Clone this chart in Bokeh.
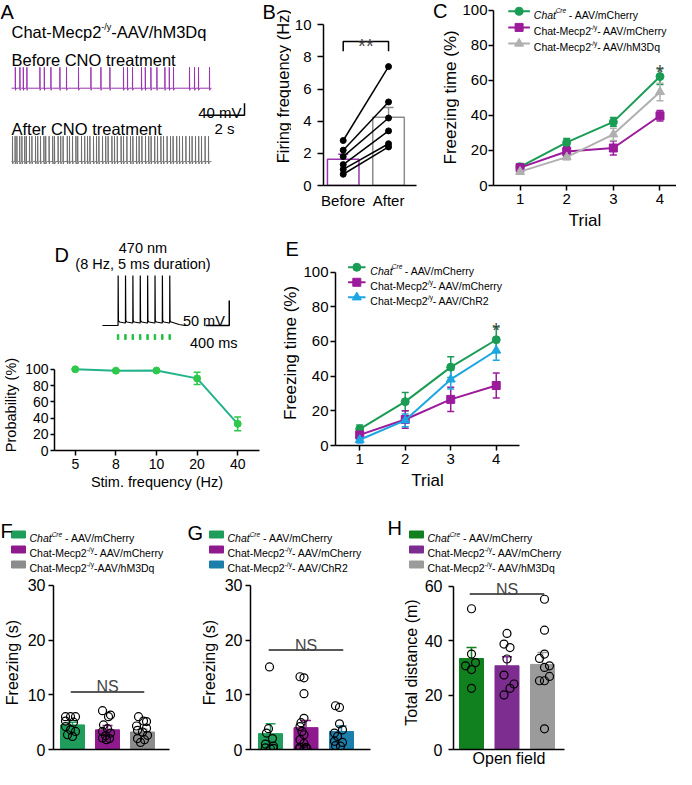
import math
from bokeh.plotting import figure
from bokeh.layouts import row, column
from bokeh.models import (Range1d, Label, Whisker, TeeHead, ColumnDataSource, FixedTicker)
from bokeh.embed import file_html
from bokeh.resources import INLINE

FONT = "Liberation Sans"

# ===================== DATA =====================
# A: spike times (s) in the two 10 s sweeps
a_before_spikes = [0.19, 0.42, 0.59, 0.77, 1.42, 1.64, 1.97, 2.42, 2.75, 3.35, 3.97,
                   4.47, 4.92, 5.60, 5.80, 6.05, 6.50, 6.69, 6.97, 7.27, 7.67, 7.89,
                   8.10, 8.90, 9.15, 9.35, 9.90]
a_after_spikes = [0.05, 0.18, 0.27, 0.41, 0.52, 0.66, 0.74, 0.90, 1.02, 1.20, 1.31,
                  1.45, 1.62, 1.71, 1.88, 2.06, 2.15, 2.33, 2.46, 2.58, 2.79, 2.90,
                  3.05, 3.22, 3.31, 3.50, 3.66, 3.80, 3.92, 4.10, 4.25, 4.37, 4.55,
                  4.71, 4.83, 5.02, 5.15, 5.29, 5.48, 5.60, 5.77, 5.95, 6.07, 6.25,
                  6.38, 6.52, 6.70, 6.86, 6.98, 7.16, 7.30, 7.47, 7.60, 7.78, 7.95,
                  8.08, 8.26, 8.40, 8.55, 8.72, 8.90, 9.03, 9.20, 9.36, 9.50, 9.68, 9.85]
a_sweep_s = 10.0
a_scale_mv = 40
a_scale_s = 2

# B
b_groups = ["Before", "After"]
b_before_hz = [2.8, 2.2, 1.8, 1.3, 1.0, 0.7]
b_after_hz = [7.4, 5.2, 4.2, 3.4, 2.6, 2.4]
b_mean_hz = [1.63, 4.25]
b_sem_hz = [0.32, 0.6]

# C
trials = [1, 2, 3, 4]
c_chat_mch = [10.6, 24.6, 36.3, 62.2]
c_chat_mch_sem = [2.0, 2.2, 2.5, 4.5]
c_mecp_mch = [10.2, 19.4, 21.4, 39.8]
c_mecp_mch_sem = [2.0, 3.0, 4.0, 3.0]
c_mecp_hm3 = [7.9, 16.2, 29.2, 53.4]
c_mecp_hm3_sem = [1.5, 1.5, 3.5, 5.0]

# D
d_freq_labels = ["5", "8", "10", "20", "40"]
d_prob = [100.0, 98.3, 98.5, 88.8, 32.8]
d_prob_sem = [0.6, 1.0, 1.0, 7.4, 8.5]
d_pulses_ms = [265, 390, 515, 640, 765, 890, 1015, 1140]
d_sweep_ms = 1425
d_scale_mv = 50
d_scale_ms = 400

# E
e_chat_mch = [9.5, 25.3, 45.2, 61.0]
e_chat_mch_sem = [2.3, 5.2, 6.0, 7.4]
e_mecp_mch = [6.1, 15.0, 26.6, 34.6]
e_mecp_mch_sem = [2.5, 5.0, 7.0, 7.2]
e_mecp_chr2 = [3.3, 14.5, 38.1, 54.8]
e_mecp_chr2_sem = [1.8, 3.7, 5.5, 5.6]

# F (freezing, s)
f_mean = [4.5, 3.6, 3.2]
f_sem = [0.5, 0.8, 0.5]
f_dots = [[6.0, 6.0, 6.0, 5.2, 5.0, 4.2, 3.6, 3.3, 2.7, 2.4],
          [7.1, 6.3, 6.0, 4.5, 3.8, 3.3, 3.0, 2.5, 2.1, 2.0, 1.8],
          [6.0, 5.2, 5.1, 4.3, 3.9, 3.5, 3.2, 2.6, 2.0, 1.8, 1.3]]
f_jit = [[-7, -2, 3, -7, 1, -7, -2, 3, -5, 0],
         [-5, 3, 1, -4, 0, -5, 3, -2, -5, 2, -1],
         [-4, 1, 4, -6, 4, -5, 0, 5, -5, 2, -2]]
# G (freezing, s)
g_mean = [2.9, 4.0, 3.3]
g_sem = [1.8, 1.3, 1.0]
g_dots = [[15.1, 3.8, 3.0, 2.0, 1.0, 0.6, 0.3, 0.2, 0.1],
          [13.3, 13.1, 10.2, 5.7, 4.9, 4.2, 3.3, 2.7, 1.8, 1.1, 0.4, 0.4, 0.1, 0.1, 0.1],
          [8.0, 7.7, 4.7, 3.6, 3.0, 2.4, 1.5, 1.3, 0.7, 0.6]]
g_jit = [[-1, -2, -4, 2, -5, 3, -5, 3, 0],
         [-6, -2, -2, -2, -5, -6, -4, -2, -6, -2, -6, 0, -7, -2, 1],
         [-6, -2, -2, 1, -7, -4, -7, 1, -6, -1]]
# H (total distance, m)
h_mean = [33.5, 30.8, 31.3]
h_sem = [4.0, 3.3, 4.4]
h_dots = [[51.8, 35.1, 32.0, 30.8, 29.4, 22.5],
          [42.7, 38.8, 37.5, 33.3, 27.4, 24.1, 22.5, 20.1],
          [55.3, 43.9, 35.1, 33.5, 30.8, 30.2, 26.9, 25.3, 25.3, 7.6]]
h_jit = [[0, 0, 4, -6, 0, 0],
         [0, -3, 3, 0, -3, 7, 3, -3],
         [2, 2, 2, -3, 7, 2, 7, -3, 2, 2]]

# ===================== COLOURS =====================
PUR_A, GRY_A = "#9a34b0", "#6e6e6e"
GREEN, PURPLE, LGREY, BLUE = "#1a9c55", "#9b1b9b", "#b0b0b0", "#1ca6e2"
D_LINE, D_MARK = "#22b38a", "#2ec84a"
F_COL = ["#1e9e5a", "#8e1a8e", "#8c8c8c"]
G_COL = ["#1e9e5a", "#8e1a8e", "#1b7eab"]
H_COL = ["#11801f", "#7d2c8f", "#9b9b9b"]

# ===================== HELPERS =====================
AW = {' ': 278, '!': 278, '%': 889, '(': 333, ')': 333, '*': 389, ',': 278, '-': 333,
      '.': 278, '/': 278, ':': 278}
for ch in "0123456789":
    AW[ch] = 556
AW.update(dict(zip("ABCDEFGHIJKLMNOPQRSTUVWXYZ",
                   [667, 667, 722, 722, 667, 611, 778, 722, 278, 500, 667, 556, 833, 722,
                    778, 667, 778, 722, 667, 611, 722, 667, 944, 667, 667, 611])))
AW.update(dict(zip("abcdefghijklmnopqrstuvwxyz",
                   [556, 556, 500, 556, 556, 278, 556, 556, 222, 222, 500, 222, 833, 556,
                    556, 556, 556, 333, 500, 278, 556, 500, 722, 500, 500, 500])))


def tw(s, size):
    return sum(AW.get(c, 556) for c in s) / 1000.0 * size


def mkfig(ox, oy, W, H, fx0, fy0, fx1, fy1, xr, yr, axes=True):
    kw = dict(width=W, height=H, x_range=Range1d(*xr), y_range=Range1d(*yr),
              output_backend="svg", toolbar_location=None,
              min_border_left=fx0 - ox, min_border_right=ox + W - fx1,
              min_border_top=fy0 - oy, min_border_bottom=oy + H - fy1)
    if not axes:
        kw["x_axis_location"] = None
        kw["y_axis_location"] = None
    p = figure(**kw)
    p.grid.visible = False
    p.outline_line_color = None
    p.border_fill_color = "white"
    p.background_fill_color = "white"

    def X(r):
        return xr[0] + (r - fx0) / (fx1 - fx0) * (xr[1] - xr[0])

    def Y(r):
        return yr[0] + (fy1 - r) / (fy1 - fy0) * (yr[1] - yr[0])
    return p, X, Y


def txt(p, X, Y, rx, ry, text, size, align="left", style="normal", color="black"):
    p.add_layout(Label(x=X(rx), y=Y(ry), text=text, text_font=FONT,
                       text_font_size=f"{size}px", text_font_style=style,
                       text_baseline="alphabetic", text_align=align, text_color=color))


def vtxt(p, X, Y, rx, ry, text, size):
    p.add_layout(Label(x=X(rx), y=Y(ry), text=text, angle=math.pi / 2, text_font=FONT,
                       text_font_size=f"{size}px", text_baseline="middle",
                       text_align="center", text_color="black"))


def rich(p, X, Y, rx, ry, parts, align="left"):
    total = sum(tw(t, s) for t, s, _, _ in parts)
    x = rx - (total / 2 if align == "center" else (total if align == "right" else 0))
    for t, s, style, dy in parts:
        lead = len(t) - len(t.lstrip(" "))
        x += tw(" " * lead, s)
        t2 = t.lstrip(" ")
        txt(p, X, Y, x, ry - dy, t2, s, style=style)
        x += tw(t2, s)


def axstyle(ax, tick_px, label_px, tick_out=5, lab_standoff=3, axlab_standoff=3):
    ax.axis_line_color = "black"
    ax.axis_line_width = 1.5
    ax.major_tick_line_color = "black"
    ax.major_tick_line_width = 1.5
    ax.major_tick_out = tick_out
    ax.major_tick_in = 0
    ax.minor_tick_line_color = None
    ax.major_label_text_font = FONT
    ax.major_label_text_font_size = f"{tick_px}px"
    ax.major_label_text_color = "black"
    ax.major_label_standoff = lab_standoff
    ax.axis_label_text_font = FONT
    ax.axis_label_text_font_size = f"{label_px}px"
    ax.axis_label_text_font_style = "normal"
    ax.axis_label_text_color = "black"
    ax.axis_label_standoff = axlab_standoff


def whisk(p, xs, lo, hi, color, size, lower=True, width=1.5):
    src = ColumnDataSource(dict(base=list(xs), lower=list(lo), upper=list(hi)))
    p.add_layout(Whisker(source=src, base="base", lower="lower", upper="upper",
                         dimension="height", line_color=color, line_width=width,
                         upper_head=TeeHead(size=size, line_color=color, line_width=width),
                         lower_head=TeeHead(size=size, line_color=color, line_width=width)
                         if lower else None))


def letter(p, X, Y, rx, ry, t):
    txt(p, X, Y, rx, ry, t, 20)


def spike_train(spikes, t_end, base, peak, ahp):
    xs, ys = [0.0], [base]
    for i, t in enumerate(spikes):
        nxt = spikes[i + 1] if i + 1 < len(spikes) else t_end
        xs += [t - 0.004, t, t + 0.01, t + 0.03]
        ys += [base, peak, base - ahp, base - 0.3 * ahp]
        if nxt - t > 0.1:
            xs.append(t + 0.08)
            ys.append(base)
    xs.append(t_end)
    ys.append(base)
    return xs, ys


def evoked_trace(pulses, t_end, rest):
    xs, ys = [0.0], [rest]
    for i, t in enumerate(pulses):
        xs += [t, t + 1.5, t + 6, t + 25]
        ys += [ys[-1], 35, -55, -58]
        if i < len(pulses) - 1:
            xs.append(t + 118)
            ys.append(-60)
        else:
            xs += [t + 80, t + 160, t + 260]
            ys += [-60, -63, -65]
    xs.append(t_end)
    ys.append(rest)
    return xs, ys


SUP_MECP = "-/y"
LEG = 10.5
SUP = 6.5


def leg_parts(kind, tail):
    if kind == "cre":
        return [("Chat", LEG, "italic", 0), ("Cre", SUP, "italic", 4), (tail, LEG, "normal", 0)]
    return [("Chat-Mecp2", LEG, "normal", 0), (SUP_MECP, SUP, "normal", 4), (tail, LEG, "normal", 0)]


# ===================== PANEL A (+ B letter and B y label) =====================
A_PX_S = 20.0
pA, XA, YA = mkfig(8, 8, 291, 232, 8, 8, 299, 240,
                   ((8 - 19) / A_PX_S, (299 - 19) / A_PX_S), (0, 232 * 40 / 15.0), axes=False)
off_b = YA(118) + 60
xs, ys = spike_train(a_before_spikes, a_sweep_s, -60, 10, 7)
pA.line(xs, [v + off_b for v in ys], line_color=PUR_A, line_width=1)
off_a = YA(210) + 60
xs, ys = spike_train(a_after_spikes, a_sweep_s, -60, 25, 8)
pA.line(xs, [v + off_a for v in ys], line_color=GRY_A, line_width=1)
t_r = XA(252)
y_b = YA(152)
pA.line([t_r - a_scale_s, t_r, t_r], [y_b, y_b, y_b + a_scale_mv], line_color="black", line_width=1.5)
letter(pA, XA, YA, 8, 23, "A")
rich(pA, XA, YA, 19, 47, [("Chat-Mecp2", 16.5, "normal", 0), (SUP_MECP, 9, "normal", 6),
                          ("-AAV/hM3Dq", 16.5, "normal", 0)])
txt(pA, XA, YA, 19, 83, "Before CNO treatment", 16.5)
txt(pA, XA, YA, 19, 169, "After CNO treatment", 16.5)
txt(pA, XA, YA, 249, 148, f"{a_scale_mv} mV", 15, align="right")
txt(pA, XA, YA, 232, 169, f"{a_scale_s} s", 15, align="center")
letter(pA, XA, YA, 270, 22, "B")
vtxt(pA, XA, YA, 290, 115.5, "Firing frequency (Hz)", 16.5)

# ===================== PANEL B (+ C letter and C y label) =====================
B_PX = 46.0
pB, XB, YB = mkfig(299, 8, 168, 232, 329, 8, 467, 198,
                   (-(349 - 329) / B_PX, -(349 - 329) / B_PX + 138 / B_PX), (0, 190 / 16.5))
pB.vbar(x=[0, 1], top=b_mean_hz, width=32 / B_PX, fill_color="white",
        line_color=[PUR_A, "#8c8c8c"], line_width=1.5)
whisk(pB, [0], [b_mean_hz[0]], [b_mean_hz[0] + b_sem_hz[0]], PUR_A, 10, lower=False)
whisk(pB, [1], [b_mean_hz[1]], [b_mean_hz[1] + b_sem_hz[1]], "#8c8c8c", 10, lower=False)
pB.multi_line(xs=[[0, 1] for _ in b_before_hz],
              ys=[[b, a] for b, a in zip(b_before_hz, b_after_hz)],
              line_color="black", line_width=1.5)
pB.scatter(x=[0] * len(b_before_hz), y=b_before_hz, size=6, color="black")
pB.scatter(x=[1] * len(b_after_hz), y=b_after_hz, size=6, color="black")
pB.line([0, 0, 1, 1], [YB(60), YB(50), YB(50), YB(60)], line_color="black", line_width=1.5)
pB.add_layout(Label(x=0.5, y=YB(55), text="**", text_font=FONT, text_font_size="20px",
                    text_align="center", text_baseline="alphabetic"))
letter(pB, XB, YB, 440, 19, "C")
vtxt(pB, XB, YB, 458, 107.5, "Freezing time (%)", 17)
pB.yaxis.ticker = FixedTicker(ticks=[0, 2, 4, 6, 8, 10])
pB.yaxis.bounds = (0, 10)
pB.xaxis.ticker = FixedTicker(ticks=[0, 1])
pB.xaxis.bounds = (XB(329), XB(423))
pB.xaxis.major_label_overrides = {i: g for i, g in enumerate(b_groups)}
axstyle(pB.yaxis[0], 15, 16.5, tick_out=6, lab_standoff=6, axlab_standoff=3)
axstyle(pB.xaxis[0], 15, 15, tick_out=0, lab_standoff=6)

# ===================== PANEL C =====================
pC, XC, YC = mkfig(467, 8, 217, 232, 498, 8, 684, 197, (0.4304, 4.354), (0, 105.6))
series_c = [(c_chat_mch, c_chat_mch_sem, GREEN, "circle", 8),
            (c_mecp_mch, c_mecp_mch_sem, PURPLE, "square", 8),
            (c_mecp_hm3, c_mecp_hm3_sem, LGREY, "triangle", 9)]
for vals, sem, col, mk, sz in series_c:
    whisk(pC, trials, [v - s for v, s in zip(vals, sem)], [v + s for v, s in zip(vals, sem)], col, 7)
    pC.line(trials, vals, line_color=col, line_width=2)
    pC.scatter(trials, vals, marker=mk, size=sz, color=col)
pC.add_layout(Label(x=4, y=YC(81), text="*", text_font=FONT, text_font_size="20px",
                    text_align="center", text_baseline="alphabetic"))
tails_c = [("cre", " - AAV/mCherry"), ("mecp", "- AAV/mCherry"), ("mecp", "- AAV/hM3Dq")]
for (vals, sem, col, mk, sz), ry, (kind, tail) in zip(series_c, [19, 35.5, 52], tails_c):
    pC.line([XC(513), XC(535)], [YC(ry), YC(ry)], line_color=col, line_width=2)
    pC.scatter([XC(524)], [YC(ry)], marker=mk, size=sz, color=col)
    rich(pC, XC, YC, 539, ry + 3.7, leg_parts(kind, tail))
pC.yaxis.ticker = FixedTicker(ticks=[0, 20, 40, 60, 80, 100])
pC.yaxis.bounds = (0, 100)
pC.xaxis.ticker = FixedTicker(ticks=trials)
pC.xaxis.axis_label = "Trial"
axstyle(pC.yaxis[0], 15, 17, tick_out=5, lab_standoff=1, axlab_standoff=0)
axstyle(pC.xaxis[0], 15, 17, tick_out=5, lab_standoff=3, axlab_standoff=4)

# ===================== PANEL D (trace) =====================
D_MS_PX = 12.5
pDt, XDt, YDt = mkfig(8, 240, 278, 120, 8, 240, 286, 360,
                      ((8 - 73) * D_MS_PX, (286 - 73) * D_MS_PX), (-119, 121), axes=False)
xs, ys = evoked_trace(d_pulses_ms, d_sweep_ms, -65)
pDt.line(xs, ys, line_color="black", line_width=1.2)
pDt.vbar(x=d_pulses_ms, bottom=YDt(347), top=YDt(342), width=25, color="#20c040")
sb_r = XDt(245)
pDt.line([sb_r - d_scale_ms, sb_r, sb_r], [-65, -65, -65 + d_scale_mv], line_color="black", line_width=1.5)
letter(pDt, XDt, YDt, 8, 262, "D")
txt(pDt, XDt, YDt, 128, 255, "470 nm", 14.5, align="center")
txt(pDt, XDt, YDt, 128, 271, "(8 Hz, 5 ms duration)", 14.5, align="center")
txt(pDt, XDt, YDt, 239, 328, f"{d_scale_mv} mV", 14.5, align="right")
txt(pDt, XDt, YDt, 224, 350, f"{d_scale_ms} ms", 14.5, align="center")

# ===================== PANEL D (probability) =====================
pDb, XDb, YDb = mkfig(8, 360, 278, 140, 60, 367, 267, 460, (-0.512, 4.537), (0, 112.05))
d_x = list(range(len(d_freq_labels)))
whisk(pDb, d_x, [v - s for v, s in zip(d_prob, d_prob_sem)],
      [v + s for v, s in zip(d_prob, d_prob_sem)], D_MARK, 7)
pDb.line(d_x, d_prob, line_color=D_LINE, line_width=2)
pDb.scatter(d_x, d_prob, marker="circle", size=7, color=D_MARK)
pDb.yaxis.ticker = FixedTicker(ticks=[0, 20, 40, 60, 80, 100])
pDb.yaxis.bounds = (0, 100)
pDb.xaxis.ticker = FixedTicker(ticks=d_x)
pDb.xaxis.major_label_overrides = {i: f for i, f in enumerate(d_freq_labels)}
pDb.yaxis.axis_label = "Probability (%)"
pDb.xaxis.axis_label = "Stim. frequency (Hz)"
axstyle(pDb.yaxis[0], 14, 14.5, tick_out=4, lab_standoff=2, axlab_standoff=3)
axstyle(pDb.xaxis[0], 14, 14.5, tick_out=5, lab_standoff=3, axlab_standoff=2)

# ===================== PANEL E =====================
pE, XE, YE = mkfig(286, 240, 398, 260, 337, 268, 527, 459, (0.468, 4.511), (0, 191 / 1.79))
pE.title.text = "E"
pE.title.align = "left"
pE.title.offset = 287 - 337
pE.title.standoff = 2
pE.title.text_font = FONT
pE.title.text_font_size = "20px"
pE.title.text_font_style = "normal"
pE.title.text_color = "black"
series_e = [(e_chat_mch, e_chat_mch_sem, GREEN, "circle", 8),
            (e_mecp_mch, e_mecp_mch_sem, PURPLE, "square", 8),
            (e_mecp_chr2, e_mecp_chr2_sem, BLUE, "triangle", 9)]
for vals, sem, col, mk, sz in series_e:
    whisk(pE, trials, [v - s for v, s in zip(vals, sem)], [v + s for v, s in zip(vals, sem)], col, 7)
    pE.line(trials, vals, line_color=col, line_width=2)
    pE.scatter(trials, vals, marker=mk, size=sz, color=col)
pE.add_layout(Label(x=4, y=YE(340), text="*", text_font=FONT, text_font_size="20px",
                    text_align="center", text_baseline="alphabetic"))
tails_e = [("cre", " - AAV/mCherry"), ("mecp", "- AAV/mCherry"), ("mecp", "- AAV/ChR2")]
for (vals, sem, col, mk, sz), ry, (kind, tail) in zip(series_e, [275, 290.5, 306], tails_e):
    pE.line([XE(350), XE(368)], [YE(ry), YE(ry)], line_color=col, line_width=2)
    pE.scatter([XE(359)], [YE(ry)], marker=mk, size=sz, color=col)
    rich(pE, XE, YE, 373, ry + 3.7, leg_parts(kind, tail))
pE.yaxis.ticker = FixedTicker(ticks=[0, 20, 40, 60, 80, 100])
pE.yaxis.bounds = (0, 100)
pE.xaxis.ticker = FixedTicker(ticks=trials)
pE.yaxis.axis_label = "Freezing time (%)"
pE.xaxis.axis_label = "Trial"
axstyle(pE.yaxis[0], 15, 17, tick_out=5, lab_standoff=2, axlab_standoff=0)
axstyle(pE.xaxis[0], 15, 17, tick_out=5, lab_standoff=3, axlab_standoff=4)

# ===================== ROW 3: letters + legends strip =====================
pS, XS, YS = mkfig(8, 506, 676, 83, 8, 506, 684, 589, (8, 684), (0, 83), axes=False)
strip_specs = [("F", 8, 544, 19, F_COL,
                [("cre", " - AAV/mCherry"), ("mecp", "- AAV/mCherry"), ("mecp", "-AAV/hM3Dq")]),
               ("G", 195, 546, 217, G_COL,
                [("cre", " - AAV/mCherry"), ("mecp", "- AAV/mCherry"), ("mecp", "- AAV/ChR2")]),
               ("H", 395, 541, 417, H_COL,
                [("cre", " - AAV/mCherry"), ("mecp", "- AAV/mCherry"), ("mecp", "- AAV/hM3Dq")])]
for let, lx, ly, sx, cols, tails in strip_specs:
    letter(pS, XS, YS, lx, ly, let)
    rows_y = [548, 563, 578]
    pS.quad(left=[XS(sx)] * 3, right=[XS(sx + 14)] * 3,
            top=[YS(r - 3.5) for r in rows_y], bottom=[YS(r + 3.5) for r in rows_y], color=cols)
    for ry, (kind, tail) in zip(rows_y, tails):
        rich(pS, XS, YS, sx + 18, ry + 3.7, leg_parts(kind, tail))


# ===================== PANELS F, G, H =====================
def bar_panel(p, X, Y, means, sems, dots, jits, cols, px_unit, ymax, yticks, ylabel,
              ns_val, ns_ry, xlabel=None, axlab_standoff=3, lab_standoff=3):
    xi = list(range(len(means)))
    p.vbar(x=xi, top=means, width=24 / px_unit, fill_color=cols, line_color=cols)
    for i in xi:
        whisk(p, [i], [means[i]], [means[i] + sems[i]], cols[i], 10, lower=False)
    for i in xi:
        p.scatter([i + j / px_unit for j in jits[i]], dots[i], marker="circle", size=8,
                  fill_color=None, line_color="black", line_width=1.2)
    p.line([-0.05, 2.05], [ns_val, ns_val], line_color="#222222", line_width=1.5)
    p.add_layout(Label(x=1, y=Y(ns_ry), text="NS", text_font=FONT, text_font_size="16px",
                       text_align="center", text_baseline="alphabetic"))
    p.yaxis.ticker = FixedTicker(ticks=yticks)
    p.yaxis.bounds = (0, ymax)
    p.yaxis.axis_label = ylabel
    p.xaxis.ticker = FixedTicker(ticks=[])
    if xlabel:
        p.xaxis.axis_label = xlabel
    axstyle(p.yaxis[0], 16, 16, tick_out=5, lab_standoff=lab_standoff, axlab_standoff=axlab_standoff)
    axstyle(p.xaxis[0], 16, 16, tick_out=0, lab_standoff=0, axlab_standoff=0)


pF, XF, YF = mkfig(8, 589, 182, 194, 61, 589, 177, 764, (-0.543, 2.771), (0, 175 / 5.5))
bar_panel(pF, XF, YF, f_mean, f_sem, f_dots, f_jit, F_COL, 35.0, 30, [0, 10, 20, 30],
          "Freezing (s)", 10.5, 701, lab_standoff=3, axlab_standoff=4)
pG, XG, YG = mkfig(190, 589, 200, 194, 258, 589, 378, 764, (-0.563, 2.817), (0, 175 / 5.5))
bar_panel(pG, XG, YG, g_mean, g_sem, g_dots, g_jit, G_COL, 35.5, 30, [0, 10, 20, 30],
          "Freezing (s)", 18.2, 659, lab_standoff=3, axlab_standoff=4)
pH, XH, YH = mkfig(390, 589, 294, 194, 461, 589, 572, 764, (-0.507, 2.620), (0, 175 / 2.733))
bar_panel(pH, XH, YH, h_mean, h_sem, h_dots, h_jit, H_COL, 35.5, 60, [0, 20, 40, 60],
          "Total distance (m)", 57.2, 603, xlabel="Open field", lab_standoff=6, axlab_standoff=2)

layout = column(row(pA, pB, pC), row(column(pDt, pDb), pE),
                column(pS, row(pF, pG, pH)))
open("out.html", "w").write(file_html(layout, INLINE, "figure"))
